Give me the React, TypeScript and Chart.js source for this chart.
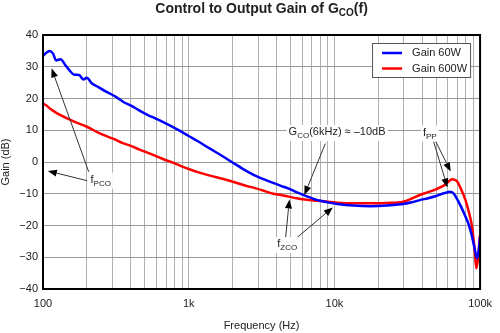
import React, { useEffect, useRef } from 'react';
import { Chart, registerables } from 'chart.js';

Chart.register(...registerables);

// ---- data ----
const freq60 = [100, 104, 111, 117, 123, 132, 141, 151, 164, 177, 189, 200, 217, 240, 267, 290, 312, 329, 356, 405, 460, 525, 600, 679, 780, 879, 1000, 1140, 1400, 1700, 2013, 2400, 2890, 3300, 3750, 4300, 4860, 5500, 6280, 7200, 8140, 9200, 10500, 13500, 17700, 23000, 29700, 34000, 38500, 44000, 49800, 55000, 59000, 61300, 64000, 66000, 68000, 73000, 79400, 84000, 88100, 92000, 95100, 97500, 100000];
const gain60 = [33.4, 34.2, 35.0, 34.2, 32.0, 32.4, 30.8, 29.0, 27.5, 27.4, 26.0, 26.5, 24.7, 23.6, 22.3, 21.5, 20.7, 20.0, 18.9, 17.7, 16.2, 14.8, 13.6, 12.4, 11.0, 9.7, 8.2, 6.7, 4.2, 1.9, -0.25, -2.4, -4.4, -5.5, -6.5, -7.5, -8.4, -9.5, -10.6, -11.6, -12.3, -12.8, -13.2, -13.7, -13.9, -13.7, -13.2, -12.7, -12.0, -11.4, -10.7, -10.0, -9.6, -9.4, -9.5, -10.0, -10.9, -13.5, -17.2, -20.0, -23.5, -27.5, -30.3, -28.5, -23.5];
const freq600 = [100, 105, 114, 125, 144, 170, 200, 241, 270, 312, 350, 405, 460, 525, 600, 679, 780, 879, 1000, 1140, 1400, 1700, 2013, 2400, 2890, 3300, 3750, 4300, 4860, 5500, 6280, 7200, 8140, 10500, 13500, 17700, 23000, 29700, 34000, 38500, 44000, 49800, 55000, 58300, 62000, 64500, 67000, 69800, 74000, 79400, 84000, 88100, 91500, 94200, 97000, 100000];
const gain600 = [18.4, 17.9, 16.5, 15.3, 13.9, 12.4, 11.1, 9.2, 8.2, 7.1, 6.0, 5.0, 3.9, 2.9, 1.8, 0.8, -0.2, -1.2, -2.2, -3.1, -4.3, -5.3, -6.2, -7.3, -8.3, -9.1, -9.9, -10.4, -10.9, -11.4, -11.8, -12.1, -12.3, -12.8, -13.0, -13.0, -12.9, -12.5, -11.5, -10.4, -9.5, -8.6, -7.7, -6.9, -5.8, -5.4, -5.6, -6.2, -8.5, -12.0, -16.0, -20.4, -27.0, -33.5, -30.0, -23.0];

const seriesNames = ['Gain 60W', 'Gain 600W'];
const seriesColors = ['#0000ff', '#ff0000'];
const xTickValues = [100, 200, 300, 400, 500, 600, 700, 800, 900, 1000, 2000, 3000, 4000, 5000, 6000, 7000, 8000, 9000, 10000, 20000, 30000, 40000, 50000, 60000, 70000, 80000, 90000, 100000];
const xLabelValues = [100, 1000, 10000, 100000];
const xLabelTexts = ['100', '1k', '10k', '100k'];
const yMin = -40;
const yMax = 40;
const yStep = 10;

const titleParts: [string, boolean][] = [['Control to Output Gain of G', false], ['CO', true], ['(f)', false]];

// annotations: label parts, label anchor [freq, dB] (left/baseline), arrows [fromF, fromDb, toF, toDb]
const annotations: { parts: [string, boolean][]; at: [number, number]; arrows: [number, number, number, number][] }[] = [
  { parts: [['f', false], ['PCO', true]], at: [212, -6.5], arrows: [[206, -3.1, 114.5, 29.5], [201, -5.9, 108, -2.8]] },
  { parts: [['G', false], ['CO', true], ['(6kHz) \u2248 \u201310dB', false]], at: [4850, 8.5], arrows: [[8670, 5.8, 6220, -10.4]] },
  { parts: [['f', false], ['PP', true]], at: [40500, 8.3], arrows: [[48500, 7.4, 62800, -3.0], [47300, 7.4, 59700, -8.0]] },
  { parts: [['f', false], ['ZCO', true]], at: [4050, -26.8], arrows: [[4610, -24.6, 4910, -11.8], [5380, -24.3, 9750, -14.3]] },
];

const FONT = '"Liberation Sans", Arial, Helvetica, sans-serif';
const TEXT = '#222222';

function drawParts(ctx: CanvasRenderingContext2D, parts: [string, boolean][], x: number, y: number, size: number, subSize: number, bold: boolean, align: 'left' | 'center', bg: boolean) {
  const w = (t: string, sub: boolean) => {
    ctx.font = `${bold ? 'bold ' : ''}${sub ? subSize : size}px ${FONT}`;
    return ctx.measureText(t).width;
  };
  const total = parts.reduce((s, [t, sub]) => s + w(t, sub), 0);
  let cx = align === 'center' ? x - total / 2 : x;
  if (bg) {
    ctx.fillStyle = '#ffffff';
    ctx.fillRect(cx - 2, y - size + 1, total + 4, size + 5);
  }
  ctx.textBaseline = 'alphabetic';
  ctx.textAlign = 'left';
  ctx.fillStyle = TEXT;
  for (const [t, sub] of parts) {
    ctx.font = `${bold ? 'bold ' : ''}${sub ? subSize : size}px ${FONT}`;
    ctx.fillText(t, cx, sub ? y + 3 : y);
    cx += ctx.measureText(t).width;
  }
}

function arrow(ctx: CanvasRenderingContext2D, x0: number, y0: number, x1: number, y1: number) {
  const ang = Math.atan2(y1 - y0, x1 - x0);
  const L = 9;
  const H = 3.5;
  const bx = x1 - L * Math.cos(ang);
  const by = y1 - L * Math.sin(ang);
  ctx.strokeStyle = '#333333';
  ctx.lineWidth = 1;
  ctx.beginPath();
  ctx.moveTo(x0, y0);
  ctx.lineTo(bx, by);
  ctx.stroke();
  ctx.fillStyle = '#000000';
  ctx.beginPath();
  ctx.moveTo(x1, y1);
  ctx.lineTo(bx + H * Math.sin(ang), by - H * Math.cos(ang));
  ctx.lineTo(bx - H * Math.sin(ang), by + H * Math.cos(ang));
  ctx.closePath();
  ctx.fill();
}

const overlayPlugin = {
  id: 'overlay',
  afterDraw(chart: any) {
    const { ctx, chartArea: a, scales } = chart;
    const xs = scales.x;
    const ys = scales.y;
    ctx.save();
    // frame
    ctx.strokeStyle = '#000000';
    ctx.lineWidth = 2;
    ctx.strokeRect(a.left, a.top, a.right - a.left, a.bottom - a.top);

    // title
    drawParts(ctx, titleParts, (a.left + a.right) / 2, 12.5, 14, 10, true, 'center', false);

    // annotations
    for (const an of annotations) {
      for (const [f0, d0, f1, d1] of an.arrows) {
        arrow(ctx, xs.getPixelForValue(f0), ys.getPixelForValue(d0), xs.getPixelForValue(f1), ys.getPixelForValue(d1));
      }
    }
    for (const an of annotations) {
      drawParts(ctx, an.parts, xs.getPixelForValue(an.at[0]), ys.getPixelForValue(an.at[1]), 11, 8, false, 'left', true);
    }

    // legend
    const lx = a.right - 108;
    const ly = a.top + 8;
    const lw = 98;
    const lh = 34;
    ctx.fillStyle = '#ffffff';
    ctx.fillRect(lx, ly, lw, lh);
    ctx.strokeStyle = '#555555';
    ctx.lineWidth = 1;
    ctx.strokeRect(lx + 0.5, ly + 0.5, lw, lh);
    seriesNames.forEach((name, i) => {
      const yy = ly + 10 + i * 15.5;
      ctx.strokeStyle = seriesColors[i];
      ctx.lineWidth = 2.5;
      ctx.beginPath();
      ctx.moveTo(lx + 10, yy);
      ctx.lineTo(lx + 30, yy);
      ctx.stroke();
      ctx.fillStyle = TEXT;
      ctx.font = `11px ${FONT}`;
      ctx.textAlign = 'left';
      ctx.textBaseline = 'middle';
      ctx.fillText(name, lx + 40, yy);
    });
    ctx.restore();
  },
};

export default function App() {
  const ref = useRef<HTMLCanvasElement | null>(null);
  useEffect(() => {
    if (!ref.current) return;
    const chart = new Chart(ref.current, {
      type: 'line',
      data: {
        datasets: [
          {
            label: seriesNames[0],
            data: freq60.map((f, i) => ({ x: f, y: gain60[i] })),
            borderColor: seriesColors[0],
            borderWidth: 2.5,
            pointRadius: 0,
            tension: 0.4,
            cubicInterpolationMode: 'monotone',
            fill: false,
          },
          {
            label: seriesNames[1],
            data: freq600.map((f, i) => ({ x: f, y: gain600[i] })),
            borderColor: seriesColors[1],
            borderWidth: 2.5,
            pointRadius: 0,
            tension: 0.4,
            cubicInterpolationMode: 'monotone',
            fill: false,
          },
        ],
      },
      options: {
        animation: false,
        responsive: true,
        maintainAspectRatio: false,
        layout: { padding: { top: 35, right: 11, left: 0, bottom: 0 } },
        plugins: {
          legend: { display: false },
          title: { display: false },
          tooltip: { enabled: false },
        },
        scales: {
          x: {
            type: 'logarithmic',
            min: 100,
            max: 100000,
            afterBuildTicks: (scale: any) => {
              scale.ticks = xTickValues.map((v) => ({ value: v }));
            },
            afterFit: (scale: any) => {
              scale.height = 44;
            },
            ticks: {
              autoSkip: false,
              maxRotation: 0,
              padding: 8,
              color: TEXT,
              font: { family: FONT, size: 11 },
              callback: (v: any) => {
                const idx = xLabelValues.indexOf(Number(v));
                return idx >= 0 ? xLabelTexts[idx] : '';
              },
            },
            grid: { color: '#b0b0b0', lineWidth: 1, drawTicks: false },
            border: { display: false },
            title: {
              display: true,
              text: 'Frequency (Hz)',
              color: TEXT,
              font: { family: FONT, size: 11, lineHeight: 1.2 },
              padding: { top: 0, bottom: 0 },
            },
          },
          y: {
            type: 'linear',
            min: yMin,
            max: yMax,
            afterFit: (scale: any) => {
              scale.width = 43;
            },
            ticks: {
              stepSize: yStep,
              padding: 5,
              color: TEXT,
              font: { family: FONT, size: 11 },
              callback: (v: any) => (Number(v) < 0 ? '\u2212' + Math.abs(Number(v)) : String(v)),
            },
            grid: { color: '#999999', lineWidth: 1, drawTicks: false },
            border: { display: false },
            title: {
              display: true,
              text: 'Gain (dB)',
              color: TEXT,
              font: { family: FONT, size: 11, lineHeight: 1.0 },
              padding: { top: 0, bottom: 0 },
            },
          },
        },
      },
      plugins: [overlayPlugin],
    } as any);
    return () => chart.destroy();
  }, []);
  return (
    <div style={{ position: 'absolute', left: 0, top: 0, width: 500, height: 333, background: '#fff' }}>
      <canvas ref={ref} />
    </div>
  );
}
